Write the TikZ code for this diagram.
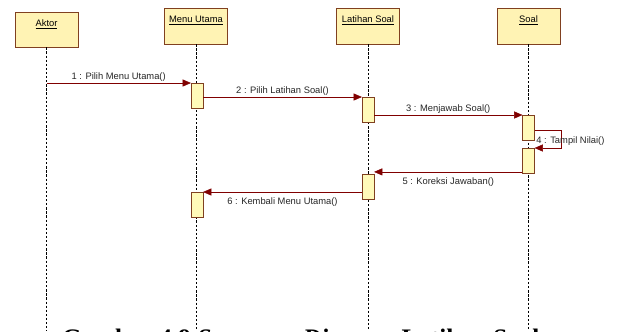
\documentclass[tikz,border=0pt]{standalone}
\usepackage{fontspec}
\setmainfont{Liberation Sans}
\newfontfamily\fontjudul{Liberation Serif}
\usepackage{tikz}
\usetikzlibrary{arrows.meta}

\definecolor{pesanmerah}{RGB}{128,0,0}
\definecolor{tepicoklat}{RGB}{128,64,32}
\definecolor{isikuning}{RGB}{255,243,180}
\definecolor{isiaktif}{RGB}{255,250,185}

\tikzset{
  kepala/.style={draw=tepicoklat, fill=isikuning, font=\fontsize{8}{9.5}\selectfont,
    minimum width=54pt, inner xsep=0pt, inner ysep=3pt,
    text height=9.2pt, text depth=15.4pt, align=center},
  aktif/.style={draw=tepicoklat, fill=isiaktif, minimum width=10pt,
    minimum height=21pt, inner sep=0pt, anchor=north},
  hidup/.style={dash pattern=on 2pt off 1.5pt, line width=0.5pt},
  pesan/.style={draw=pesanmerah, thin,
    -{Triangle[length=7pt,width=6pt,fill=pesanmerah]}},
  teks/.style={font=\fontsize{8}{9.5}\selectfont, inner sep=1pt, text=black!85}
}

\begin{document}
\begin{tikzpicture}[x=0.03cm, y=-0.03cm]
    \useasboundingbox (0,0) rectangle (617,331);

    % Kotak objek
    \node[kepala, text height=9.8pt, text depth=14.2pt] (aktor) at (46.5,29.5) {\underline{Aktor}};
    \node[kepala] (menu) at (196,26) {\underline{Menu Utama}};
    \node[kepala] (latihan) at (368,26) {\underline{Latihan Soal}};
    \node[kepala] (soal) at (528.5,26) {\underline{Soal}};

    % Garis hidup (sampai ke bawah gambar)
    \foreach \o in {aktor, menu, latihan, soal}
        \draw[hidup] (\o.south) -- (\o.south |- 0,331);

    % Batang aktivasi
    \node[aktif] (menuA) at (197,83) {};
    \node[aktif] (latA) at (368,97) {};
    \node[aktif] (soalA) at (528.5,115) {};
    \node[aktif] (soalB) at (528.5,148) {};
    \node[aktif] (latB) at (368,174) {};
    \node[aktif] (menuB) at (197,192) {};

    \coordinate (aktor1) at (aktor.south |- menuA.north);

    % --- PESAN ---
    \draw[pesan] (aktor1) -- (menuA.north west)
        node[teks, midway, above] (p1) {1 : Pilih Menu Utama()};
    \draw[pesan] (menuA.east |- latA.north) -- (latA.north west)
        node[teks, midway, above] (p2) {2 : Pilih Latihan Soal()};
    \draw[pesan] (latA.east |- soalA.north) -- (soalA.north west)
        node[teks, midway, above] (p3) {3 : Menjawab Soal()};
    % Pesan ke diri sendiri
    \draw[pesan] ([yshift=-2.5]soalA.east) -- ++(27,0) |- (soalB.north east);
    \node[teks, anchor=west] (p4) at (535,141) {4 : Tampil Nilai()};
    \draw[pesan] ([yshift=1]soalB.south west) -- ([yshift=1]soalB.south west -| latB.east)
        node[teks, midway, below=4pt] (p5) {5 : Koreksi Jawaban()};
    \draw[pesan] (latB.west |- menuB.north) -- (menuB.north east)
        node[teks, midway, below=4pt] (p6) {6 : Kembali Menu Utama()};

    % Judul gambar (terpotong di bawah)
    \node[font=\fontjudul\bfseries\fontsize{21.5}{26}\selectfont, anchor=base west, inner sep=0pt]
        (judul) at (62,346) {Gambar 4.9 \textit{Sequence Diagram} Latihan Soal};
\end{tikzpicture}
\end{document}
